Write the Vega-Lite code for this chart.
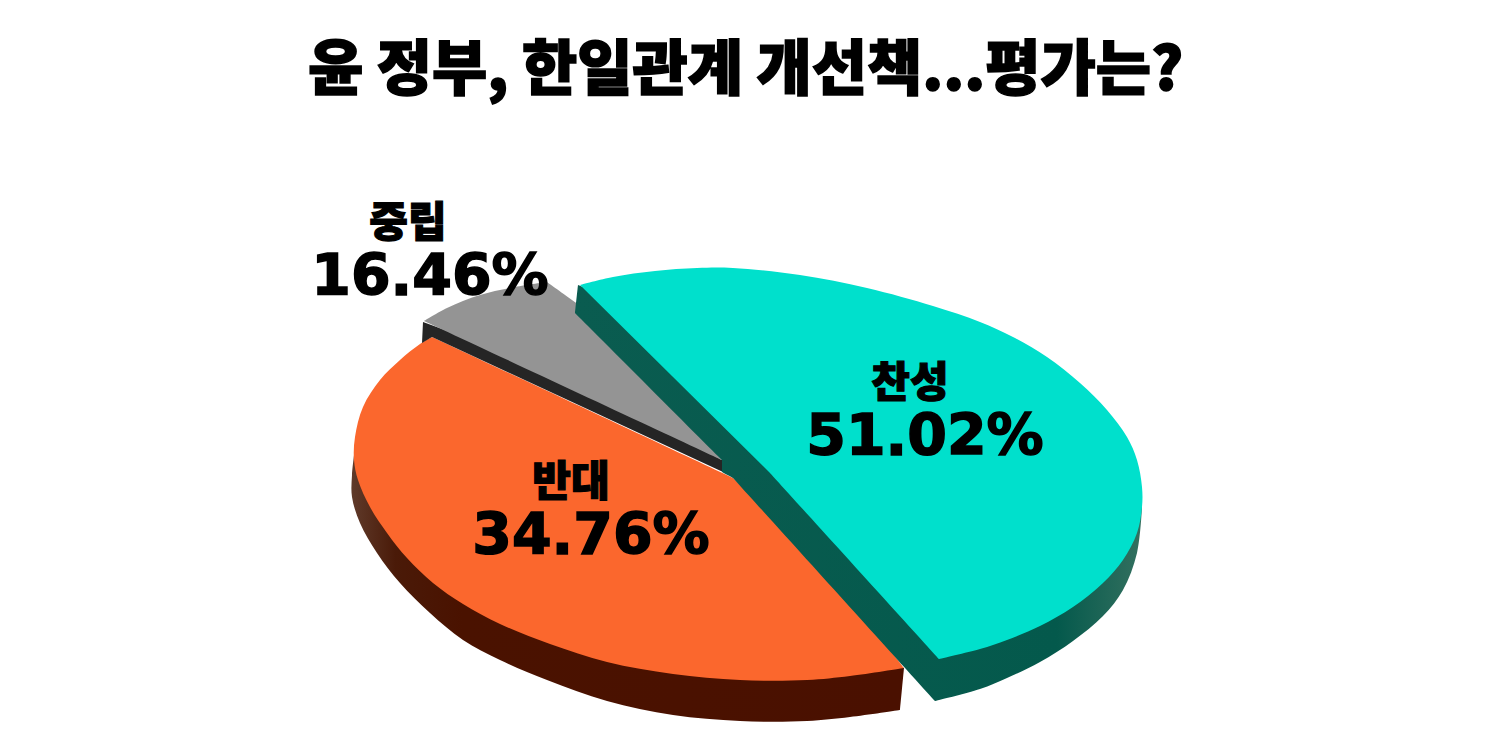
{
  "$schema": "https://vega.github.io/schema/vega-lite/v6.json",
  "width": 1491,
  "height": 756,
  "padding": 0,
  "autosize": "none",
  "background": "white",
  "config": {"view": {"stroke": null}},
  "title": {
    "text": "윤 정부, 한일관계 개선책...평가는?",
    "font": "Noto Sans CJK KR",
    "fontSize": 60,
    "fontWeight": 900,
    "color": "black",
    "anchor": "middle",
    "frame": "group",
    "offset": -103,
    "encode": {"update": {"stroke": {"value": "black"}, "strokeWidth": {"value": 1.6}}}
  },
  "datasets": {
    "outline": [
      {"part": "orange_wall", "n": 1, "x": 355, "y": 448},
      {"part": "orange_wall", "n": 2, "x": 355, "y": 448},
      {"part": "orange_wall", "n": 3, "x": 355, "y": 448},
      {"part": "orange_wall", "n": 4, "x": 352, "y": 475},
      {"part": "orange_wall", "n": 5, "x": 352, "y": 497},
      {"part": "orange_wall", "n": 6, "x": 360, "y": 523},
      {"part": "orange_wall", "n": 7, "x": 377, "y": 553},
      {"part": "orange_wall", "n": 8, "x": 400, "y": 583},
      {"part": "orange_wall", "n": 9, "x": 430, "y": 613},
      {"part": "orange_wall", "n": 10, "x": 463, "y": 640},
      {"part": "orange_wall", "n": 11, "x": 500, "y": 660},
      {"part": "orange_wall", "n": 12, "x": 547, "y": 680},
      {"part": "orange_wall", "n": 13, "x": 607, "y": 701},
      {"part": "orange_wall", "n": 14, "x": 673, "y": 715},
      {"part": "orange_wall", "n": 15, "x": 740, "y": 721},
      {"part": "orange_wall", "n": 16, "x": 807, "y": 721},
      {"part": "orange_wall", "n": 17, "x": 850, "y": 717},
      {"part": "orange_wall", "n": 18, "x": 900, "y": 710},
      {"part": "orange_wall", "n": 19, "x": 900, "y": 710},
      {"part": "orange_wall", "n": 20, "x": 900, "y": 710},
      {"part": "orange_wall", "n": 21, "x": 904, "y": 668},
      {"part": "orange_wall", "n": 22, "x": 904, "y": 668},
      {"part": "orange_wall", "n": 23, "x": 904, "y": 668},
      {"part": "orange_top", "n": 1, "x": 733, "y": 478},
      {"part": "orange_top", "n": 2, "x": 733, "y": 478},
      {"part": "orange_top", "n": 3, "x": 733, "y": 478},
      {"part": "orange_top", "n": 4, "x": 432, "y": 337},
      {"part": "orange_top", "n": 5, "x": 432, "y": 337},
      {"part": "orange_top", "n": 6, "x": 432, "y": 337},
      {"part": "orange_top", "n": 7, "x": 420, "y": 344},
      {"part": "orange_top", "n": 8, "x": 400, "y": 360},
      {"part": "orange_top", "n": 9, "x": 380, "y": 380},
      {"part": "orange_top", "n": 10, "x": 363, "y": 407},
      {"part": "orange_top", "n": 11, "x": 355, "y": 437},
      {"part": "orange_top", "n": 12, "x": 354, "y": 460},
      {"part": "orange_top", "n": 13, "x": 358, "y": 480},
      {"part": "orange_top", "n": 14, "x": 370, "y": 507},
      {"part": "orange_top", "n": 15, "x": 387, "y": 533},
      {"part": "orange_top", "n": 16, "x": 407, "y": 558},
      {"part": "orange_top", "n": 17, "x": 433, "y": 583},
      {"part": "orange_top", "n": 18, "x": 463, "y": 604},
      {"part": "orange_top", "n": 19, "x": 500, "y": 624},
      {"part": "orange_top", "n": 20, "x": 550, "y": 644},
      {"part": "orange_top", "n": 21, "x": 607, "y": 662},
      {"part": "orange_top", "n": 22, "x": 673, "y": 674},
      {"part": "orange_top", "n": 23, "x": 740, "y": 680},
      {"part": "orange_top", "n": 24, "x": 807, "y": 680},
      {"part": "orange_top", "n": 25, "x": 850, "y": 676},
      {"part": "orange_top", "n": 26, "x": 904, "y": 668},
      {"part": "orange_top", "n": 27, "x": 904, "y": 668},
      {"part": "orange_top", "n": 28, "x": 904, "y": 668},
      {"part": "orange_top", "n": 29, "x": 830, "y": 570},
      {"part": "orange_top", "n": 30, "x": 830, "y": 570},
      {"part": "orange_top", "n": 31, "x": 830, "y": 570},
      {"part": "gray_wall", "n": 1, "x": 423, "y": 322},
      {"part": "gray_wall", "n": 2, "x": 560, "y": 372},
      {"part": "gray_wall", "n": 3, "x": 722, "y": 460},
      {"part": "gray_wall", "n": 4, "x": 723, "y": 472},
      {"part": "gray_wall", "n": 5, "x": 432, "y": 337},
      {"part": "gray_wall", "n": 6, "x": 422, "y": 343},
      {"part": "gray_top", "n": 1, "x": 722, "y": 460},
      {"part": "gray_top", "n": 2, "x": 722, "y": 460},
      {"part": "gray_top", "n": 3, "x": 722, "y": 460},
      {"part": "gray_top", "n": 4, "x": 424, "y": 321},
      {"part": "gray_top", "n": 5, "x": 424, "y": 321},
      {"part": "gray_top", "n": 6, "x": 424, "y": 321},
      {"part": "gray_top", "n": 7, "x": 447, "y": 308},
      {"part": "gray_top", "n": 8, "x": 480, "y": 295},
      {"part": "gray_top", "n": 9, "x": 515, "y": 287},
      {"part": "gray_top", "n": 10, "x": 547, "y": 282},
      {"part": "gray_top", "n": 11, "x": 547, "y": 282},
      {"part": "gray_top", "n": 12, "x": 547, "y": 282},
      {"part": "gray_top", "n": 13, "x": 600, "y": 320},
      {"part": "gray_top", "n": 14, "x": 600, "y": 320},
      {"part": "gray_top", "n": 15, "x": 600, "y": 320},
      {"part": "teal_wall", "n": 1, "x": 578, "y": 285},
      {"part": "teal_wall", "n": 2, "x": 578, "y": 285},
      {"part": "teal_wall", "n": 3, "x": 578, "y": 285},
      {"part": "teal_wall", "n": 4, "x": 575, "y": 313},
      {"part": "teal_wall", "n": 5, "x": 575, "y": 313},
      {"part": "teal_wall", "n": 6, "x": 575, "y": 313},
      {"part": "teal_wall", "n": 7, "x": 722, "y": 460},
      {"part": "teal_wall", "n": 8, "x": 722, "y": 460},
      {"part": "teal_wall", "n": 9, "x": 722, "y": 460},
      {"part": "teal_wall", "n": 10, "x": 722, "y": 472},
      {"part": "teal_wall", "n": 11, "x": 722, "y": 472},
      {"part": "teal_wall", "n": 12, "x": 722, "y": 472},
      {"part": "teal_wall", "n": 13, "x": 733, "y": 478},
      {"part": "teal_wall", "n": 14, "x": 733, "y": 478},
      {"part": "teal_wall", "n": 15, "x": 733, "y": 478},
      {"part": "teal_wall", "n": 16, "x": 935, "y": 701},
      {"part": "teal_wall", "n": 17, "x": 935, "y": 701},
      {"part": "teal_wall", "n": 18, "x": 935, "y": 701},
      {"part": "teal_wall", "n": 19, "x": 980, "y": 689},
      {"part": "teal_wall", "n": 20, "x": 1007, "y": 678},
      {"part": "teal_wall", "n": 21, "x": 1040, "y": 662},
      {"part": "teal_wall", "n": 22, "x": 1073, "y": 641},
      {"part": "teal_wall", "n": 23, "x": 1103, "y": 616},
      {"part": "teal_wall", "n": 24, "x": 1123, "y": 590},
      {"part": "teal_wall", "n": 25, "x": 1137, "y": 553},
      {"part": "teal_wall", "n": 26, "x": 1142, "y": 507},
      {"part": "teal_wall", "n": 27, "x": 1142, "y": 507},
      {"part": "teal_wall", "n": 28, "x": 1142, "y": 507},
      {"part": "teal_top", "n": 1, "x": 580, "y": 285},
      {"part": "teal_top", "n": 2, "x": 580, "y": 285},
      {"part": "teal_top", "n": 3, "x": 580, "y": 285},
      {"part": "teal_top", "n": 4, "x": 613, "y": 277},
      {"part": "teal_top", "n": 5, "x": 655, "y": 271},
      {"part": "teal_top", "n": 6, "x": 697, "y": 268},
      {"part": "teal_top", "n": 7, "x": 733, "y": 268},
      {"part": "teal_top", "n": 8, "x": 800, "y": 275},
      {"part": "teal_top", "n": 9, "x": 867, "y": 288},
      {"part": "teal_top", "n": 10, "x": 933, "y": 306},
      {"part": "teal_top", "n": 11, "x": 980, "y": 322},
      {"part": "teal_top", "n": 12, "x": 1013, "y": 337},
      {"part": "teal_top", "n": 13, "x": 1047, "y": 357},
      {"part": "teal_top", "n": 14, "x": 1080, "y": 383},
      {"part": "teal_top", "n": 15, "x": 1107, "y": 410},
      {"part": "teal_top", "n": 16, "x": 1127, "y": 437},
      {"part": "teal_top", "n": 17, "x": 1137, "y": 460},
      {"part": "teal_top", "n": 18, "x": 1142, "y": 487},
      {"part": "teal_top", "n": 19, "x": 1142, "y": 507},
      {"part": "teal_top", "n": 20, "x": 1137, "y": 533},
      {"part": "teal_top", "n": 21, "x": 1123, "y": 560},
      {"part": "teal_top", "n": 22, "x": 1103, "y": 583},
      {"part": "teal_top", "n": 23, "x": 1073, "y": 607},
      {"part": "teal_top", "n": 24, "x": 1040, "y": 626},
      {"part": "teal_top", "n": 25, "x": 1007, "y": 640},
      {"part": "teal_top", "n": 26, "x": 980, "y": 649},
      {"part": "teal_top", "n": 27, "x": 939, "y": 659},
      {"part": "teal_top", "n": 28, "x": 939, "y": 659},
      {"part": "teal_top", "n": 29, "x": 939, "y": 659},
      {"part": "teal_top", "n": 30, "x": 770, "y": 473},
      {"part": "teal_top", "n": 31, "x": 770, "y": 473},
      {"part": "teal_top", "n": 32, "x": 770, "y": 473}
    ],
    "slices": [
      {"name": "찬성", "share": "51.02%", "name_x": 910, "share_x": 925, "name_y": 384, "share_y": 438},
      {"name": "반대", "share": "34.76%", "name_x": 571, "share_x": 591, "name_y": 483, "share_y": 537},
      {"name": "중립", "share": "16.46%", "name_x": 408, "share_x": 430, "name_y": 224, "share_y": 278}
    ]
  },
  "layer": [
    {
      "data": {"name": "outline"},
      "transform": [{"filter": "datum.part=='orange_wall'"}],
      "mark": {"type": "line", "filled": true, "strokeWidth": 0, "interpolate": "catmull-rom", "color": {"gradient": "linear", "x1": 0, "y1": 0, "x2": 1, "y2": 0, "stops": [{"offset": 0, "color": "#5f3a2a"}, {"offset": 0.08, "color": "#4a1a08"}, {"offset": 0.2, "color": "#4a1200"}, {"offset": 1, "color": "#4a1000"}]}},
      "encoding": {
        "x": {"field": "x", "type": "quantitative", "scale": {"domain": [0, 1491]}, "axis": null},
        "y": {"field": "y", "type": "quantitative", "scale": {"domain": [756, 0]}, "axis": null},
        "order": {"field": "n"}
      }
    },
    {
      "data": {"name": "outline"},
      "transform": [{"filter": "datum.part=='orange_top'"}],
      "mark": {"type": "line", "filled": true, "strokeWidth": 0, "interpolate": "catmull-rom", "color": "#fb672d"},
      "encoding": {
        "x": {"field": "x", "type": "quantitative", "scale": {"domain": [0, 1491]}, "axis": null},
        "y": {"field": "y", "type": "quantitative", "scale": {"domain": [756, 0]}, "axis": null},
        "order": {"field": "n"}
      }
    },
    {
      "data": {"name": "outline"},
      "transform": [{"filter": "datum.part=='gray_wall'"}],
      "mark": {"type": "line", "filled": true, "strokeWidth": 0, "color": "#252525"},
      "encoding": {
        "x": {"field": "x", "type": "quantitative", "scale": {"domain": [0, 1491]}, "axis": null},
        "y": {"field": "y", "type": "quantitative", "scale": {"domain": [756, 0]}, "axis": null},
        "order": {"field": "n"}
      }
    },
    {
      "data": {"name": "outline"},
      "transform": [{"filter": "datum.part=='gray_top'"}],
      "mark": {"type": "line", "filled": true, "strokeWidth": 0, "interpolate": "catmull-rom", "color": "#949494"},
      "encoding": {
        "x": {"field": "x", "type": "quantitative", "scale": {"domain": [0, 1491]}, "axis": null},
        "y": {"field": "y", "type": "quantitative", "scale": {"domain": [756, 0]}, "axis": null},
        "order": {"field": "n"}
      }
    },
    {
      "data": {"name": "outline"},
      "transform": [{"filter": "datum.part=='teal_wall'"}],
      "mark": {"type": "line", "filled": true, "strokeWidth": 0, "interpolate": "catmull-rom", "color": {"gradient": "linear", "x1": 0, "y1": 0, "x2": 1, "y2": 0, "stops": [{"offset": 0, "color": "#0a5c50"}, {"offset": 0.85, "color": "#04594c"}, {"offset": 1, "color": "#33705f"}]}},
      "encoding": {
        "x": {"field": "x", "type": "quantitative", "scale": {"domain": [0, 1491]}, "axis": null},
        "y": {"field": "y", "type": "quantitative", "scale": {"domain": [756, 0]}, "axis": null},
        "order": {"field": "n"}
      }
    },
    {
      "data": {"name": "outline"},
      "transform": [{"filter": "datum.part=='teal_top'"}],
      "mark": {"type": "line", "filled": true, "strokeWidth": 0, "interpolate": "catmull-rom", "color": "#00e0cc"},
      "encoding": {
        "x": {"field": "x", "type": "quantitative", "scale": {"domain": [0, 1491]}, "axis": null},
        "y": {"field": "y", "type": "quantitative", "scale": {"domain": [756, 0]}, "axis": null},
        "order": {"field": "n"}
      }
    },
    {
      "data": {"name": "slices"},
      "mark": {"type": "text", "font": "Noto Sans CJK KR", "fontWeight": 900, "fontSize": 42, "color": "black", "stroke": "black", "strokeWidth": 1.2, "baseline": "middle", "align": "center"},
      "encoding": {
        "x": {"field": "name_x", "type": "quantitative", "scale": {"domain": [0, 1491]}, "axis": null},
        "y": {"field": "name_y", "type": "quantitative", "scale": {"domain": [756, 0]}, "axis": null},
        "text": {"field": "name"}
      }
    },
    {
      "data": {"name": "slices"},
      "mark": {"type": "text", "font": "DejaVu Sans", "fontWeight": "bold", "fontSize": 57, "color": "black", "stroke": "black", "strokeWidth": 1.5, "baseline": "middle", "align": "center"},
      "encoding": {
        "x": {"field": "share_x", "type": "quantitative", "scale": {"domain": [0, 1491]}, "axis": null},
        "y": {"field": "share_y", "type": "quantitative", "scale": {"domain": [756, 0]}, "axis": null},
        "text": {"field": "share"}
      }
    }
  ]
}
